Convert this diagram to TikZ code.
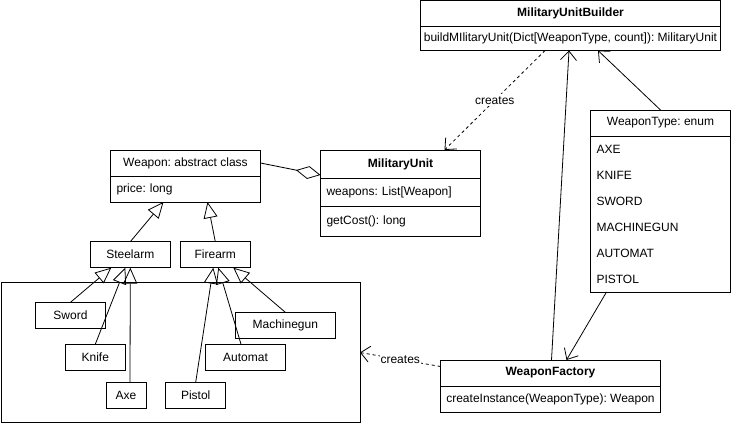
\documentclass[tikz,border=0pt]{standalone}
\usepackage{fontspec}
\setmainfont{Liberation Sans}
\usetikzlibrary{positioning,arrows.meta}
\frenchspacing

\begin{document}
\begin{tikzpicture}
	[x=1pt,y=-1pt,line width=0.8pt,
	every node/.style={font=\fontsize{12}{14}\selectfont,outer sep=0pt},
	box/.style={draw,fill=white,inner sep=0pt,minimum height=26pt,minimum width=#1},
	head/.style={box=#1,font=\fontsize{12}{14}\selectfont\bfseries},
	row/.style={draw,fill=white,inner xsep=6pt,inner ysep=0pt,minimum height=26pt,text width=#1,align=left},
	inherit/.style={-{Triangle[open,length=16pt,width=14pt]}},
	uses/.style={-{Straight Barb[length=9pt,width=16pt]}},
	creates/.style={uses,dash pattern=on 3pt off 3pt}]
	\useasboundingbox (0,0) rectangle (731,423);
	\node[draw,minimum width=359pt,minimum height=140pt,inner sep=0pt] (grp) at (180.5,352.5) {};
	\node[box=150pt,anchor=north west] (wpn) at (110.5,150) {Weapon: abstract class};
	\node[row=138pt,below=0pt of wpn] (wpnAttr) {price: long};
	\node[head=160pt,minimum height=28pt,anchor=north west] (mu) at (320.5,150) {MilitaryUnit};
	\node[row=148pt,minimum height=28pt,below=0pt of mu] (muAttr) {weapons: List[Weapon]};
	\node[row=148pt,minimum height=30pt,below=0pt of muAttr] (muOps) {getCost(): long};
	\node[head=300pt,anchor=north west] (mub) at (420.5,0.5) {MilitaryUnitBuilder};
	\node[box=300pt,minimum height=24pt,below=0pt of mub] (mubOps) {buildMIlitaryUnit(Dict[WeaponType, count]): MilitaryUnit};
	\node[box=140pt,anchor=north west] (wt) at (590.5,110) {WeaponType: enum};
	\node[row=128pt,minimum height=156pt,below=0pt of wt,font=\fontsize{12}{26}\selectfont] (wtVals)
		{AXE\\KNIFE\\SWORD\\MACHINEGUN\\AUTOMAT\\PISTOL};
	\node[head=220pt,anchor=north west] (wf) at (440.5,360) {WeaponFactory};
	\node[box=220pt,below=0pt of wf] (wfOps) {createInstance(WeaponType): Weapon};
	\node[box=80pt] (steel) at (130.3,254.7) {Steelarm};
	\node[box=70pt] (fire) at (215.3,254.7) {Firearm};
	\node[box=70pt] (sword) at (70.5,315.3) {Sword};
	\node[box=60pt] (knife) at (95.3,357.2) {Knife};
	\node[box=40pt] (axe) at (126,395.3) {Axe};
	\node[box=60pt] (pistol) at (195.7,395.3) {Pistol};
	\node[box=80pt] (automat) at (245.5,357.2) {Automat};
	\node[box=100pt] (mg) at (285.3,325.3) {Machinegun};
	\draw[inherit] (steel.north) -- ([xshift=-22pt]wpnAttr.south);
	\draw[inherit] (fire.north) -- ([xshift=22pt]wpnAttr.south);
	\draw[inherit] (sword.north) -- ([xshift=-19pt]steel.south);
	\draw[inherit] (knife.north) -- ([xshift=-5pt]steel.south);
	\draw[inherit] ([xshift=4pt]axe.north) -- (steel.south);
	\draw[inherit] (pistol.north) -- ([xshift=-2pt]fire.south);
	\draw[inherit] ([xshift=-4.5pt]automat.north) -- ([xshift=3pt]fire.south);
	\draw[inherit] (mg.north) -- ([xshift=18pt]fire.south);
	\draw[-{Diamond[open,length=25pt,width=13pt]}] (wpn.east) -- ([yshift=-11pt]mu.west);
	\draw[creates] ([xshift=-25.5pt]mubOps.south) -- node[fill=white,inner sep=2pt] {creates} ([xshift=44pt]mu.north);
	\draw[uses] ([xshift=1pt]wf.north) -- ([xshift=-1.5pt]mubOps.south);
	\draw[uses] (wt.north) -- ([xshift=27.5pt]mubOps.south);
	\draw[uses] ([xshift=-54pt]wtVals.south) -- ([xshift=16pt]wf.north);
	\draw[creates] ([yshift=6.5pt]wf.west) -- node[fill=white,inner sep=1pt] {creates} (grp.east);
\end{tikzpicture}
\end{document}
